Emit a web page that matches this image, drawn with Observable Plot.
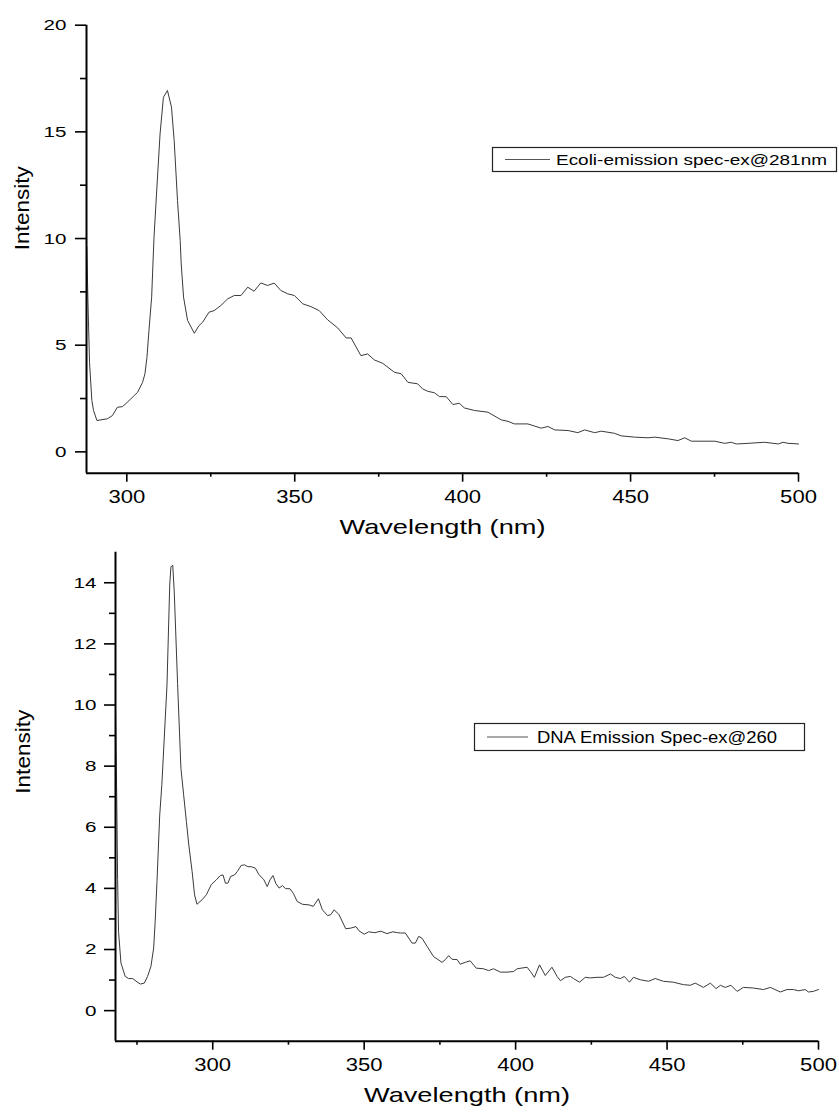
<!DOCTYPE html>
<html>
<head>
<meta charset="utf-8">
<script src="https://cdn.jsdelivr.net/npm/d3@7"></script>
<script src="https://cdn.jsdelivr.net/npm/@observablehq/plot@0.6"></script>
<style>
  html, body { margin: 0; padding: 0; background: #fff; }
  #page { position: relative; width: 839px; height: 1115px; overflow: hidden; background: #fff; }
  .panel { position: absolute; left: 0; width: 839px; }
  .legend { position: absolute; left: 0; top: 0; overflow: visible; }
  text { font-family: "Liberation Sans", Arial, sans-serif; }
</style>
</head>
<body>
<div id="page"></div>
<script>
// E. coli emission spectrum, excitation at 281 nm
const ecoliWavelength = [288.1, 288.4, 288.9, 289.6, 290.1, 291.1, 294.2, 295.7, 297.2, 298.7,
  300.2, 302.2, 303.2, 304.7, 305.4, 306.0, 306.6, 307.4, 308.1, 309.2,
  309.9, 310.9, 312.1, 313.3, 314.1, 315.1, 315.9, 316.2, 316.9, 318.1,
  320.1, 321.5, 322.6, 324.5, 326.0, 328.0, 330.0, 332.0, 334.0, 336.0,
  337.9, 339.9, 341.9, 343.9, 345.9, 347.9, 349.9, 352.4, 354.8, 357.3,
  359.8, 362.8, 365.3, 366.8, 369.7, 371.7, 373.7, 376.2, 379.7, 381.7,
  383.7, 386.6, 388.1, 389.6, 391.6, 393.1, 395.1, 397.1, 399.0, 400.5,
  403.5, 407.5, 411.5, 413.5, 415.4, 419.4, 423.4, 425.4, 427.4, 431.4,
  434.3, 436.3, 439.3, 441.3, 445.2, 447.2, 451.2, 455.2, 457.2, 461.2,
  464.1, 466.1, 468.1, 475.1, 478.0, 480.0, 481.5, 485.0, 489.9, 494.0,
  495.4, 496.9, 500.0];
const ecoliIntensity = [9.6, 7.25, 4.2, 2.4, 1.94, 1.47, 1.55, 1.70, 2.09, 2.12,
  2.33, 2.64, 2.79, 3.26, 3.66, 4.43, 5.69, 7.25, 10.06, 13.03,
  14.9, 16.62, 16.94, 16.16, 14.6, 11.78, 9.9, 8.81, 7.25, 6.16,
  5.56, 5.92, 6.08, 6.55, 6.62, 6.86, 7.17, 7.33, 7.33, 7.72,
  7.53, 7.92, 7.80, 7.91, 7.56, 7.41, 7.33, 6.94, 6.81, 6.62,
  6.19, 5.81, 5.34, 5.34, 4.51, 4.59, 4.31, 4.15, 3.73, 3.66,
  3.26, 3.19, 2.95, 2.84, 2.77, 2.59, 2.59, 2.22, 2.28, 2.06,
  1.94, 1.86, 1.50, 1.43, 1.31, 1.31, 1.11, 1.19, 1.03, 1.00,
  0.90, 1.03, 0.90, 0.97, 0.87, 0.75, 0.69, 0.66, 0.69, 0.61,
  0.53, 0.66, 0.50, 0.50, 0.40, 0.45, 0.37, 0.40, 0.45, 0.37,
  0.45, 0.40, 0.37];

// DNA emission spectrum, excitation at 260 nm
const dnaWavelength = [267.9, 268.3, 268.6, 268.9, 269.7, 271.1, 272.2, 273.6, 275.0, 276.1,
  277.4, 278.5, 279.6, 280.5, 281.0, 281.6, 282.5, 283.2, 284.9, 285.8,
  286.2, 286.8, 287.3, 288.4, 289.5, 290.4, 291.3, 292.1, 293.2, 294.0,
  294.8, 296.5, 297.9, 299.5, 301.2, 302.5, 303.4, 304.2, 305.0, 305.9,
  307.2, 308.1, 309.4, 310.5, 311.6, 312.7, 314.1, 315.2, 316.9, 318.0,
  318.9, 319.9, 320.8, 321.9, 323.0, 324.1, 325.5, 326.6, 327.9, 329.6,
  331.8, 333.2, 334.9, 336.2, 337.9, 339.0, 340.1, 341.7, 343.9, 345.6,
  347.3, 348.3, 350.0, 351.5, 353.5, 355.5, 357.5, 359.5, 361.0, 362.0,
  363.6, 365.8, 366.9, 368.0, 369.1, 370.8, 372.9, 375.7, 376.8, 377.9,
  379.0, 380.7, 381.7, 383.4, 385.0, 387.0, 389.4, 391.1, 392.7, 395.0,
  397.2, 399.3, 400.5, 403.8, 404.9, 406.2, 407.9, 409.8, 412.0, 413.7,
  414.8, 416.4, 418.1, 419.1, 421.1, 423.0, 424.7, 426.9, 429.0, 431.3,
  432.9, 434.6, 435.9, 437.6, 438.9, 441.2, 443.9, 446.1, 448.8, 452.1,
  455.4, 457.7, 459.3, 462.0, 464.3, 466.2, 467.6, 469.2, 471.1, 473.1,
  475.2, 478.5, 481.8, 484.1, 487.4, 489.6, 491.7, 493.4, 495.6, 496.7,
  498.3, 500.0];
const dnaIntensity = [9.9, 7.0, 4.3, 2.6, 1.56, 1.12, 1.05, 1.05, 0.94, 0.87,
  0.90, 1.12, 1.45, 2.05, 2.92, 4.23, 6.4, 7.39, 10.65, 13.92,
  14.52, 14.58, 13.7, 10.7, 7.93, 7.06, 6.19, 5.42, 4.55, 3.79,
  3.48, 3.63, 3.79, 4.12, 4.28, 4.42, 4.44, 4.17, 4.17, 4.39,
  4.44, 4.55, 4.75, 4.77, 4.71, 4.71, 4.66, 4.46, 4.28, 4.06,
  4.28, 4.42, 4.17, 4.01, 4.09, 3.99, 3.99, 3.84, 3.57, 3.48,
  3.46, 3.41, 3.66, 3.30, 3.11, 3.14, 3.30, 3.14, 2.68, 2.70,
  2.75, 2.61, 2.50, 2.58, 2.55, 2.60, 2.52, 2.58, 2.55, 2.54,
  2.54, 2.21, 2.21, 2.43, 2.37, 2.10, 1.77, 1.58, 1.67, 1.80,
  1.68, 1.67, 1.52, 1.58, 1.63, 1.39, 1.37, 1.31, 1.37, 1.26,
  1.26, 1.28, 1.37, 1.42, 1.28, 1.09, 1.50, 1.15, 1.42, 1.12,
  0.98, 1.09, 1.12, 1.05, 0.93, 1.09, 1.07, 1.09, 1.09, 1.20,
  1.09, 1.05, 1.12, 0.93, 1.09, 1.01, 0.96, 1.05, 0.96, 0.93,
  0.85, 0.83, 0.90, 0.76, 0.90, 0.72, 0.83, 0.76, 0.83, 0.63,
  0.76, 0.74, 0.69, 0.76, 0.61, 0.69, 0.69, 0.65, 0.69, 0.61,
  0.63, 0.69];

// Axis ticks
const ecoliXTicks = [300, 350, 400, 450, 500];
const ecoliXMinor = [325, 375, 425, 475];
const ecoliYTicks = [0, 5, 10, 15, 20];
const ecoliYMinor = [2.5, 7.5, 12.5, 17.5];
const dnaXTicks = [300, 350, 400, 450, 500];
const dnaXMinor = [275, 325, 375, 425, 475];
const dnaYTicks = [0, 2, 4, 6, 8, 10, 12, 14];
const dnaYMinor = [1, 3, 5, 7, 9, 11, 13];

// Labels
const xLabel = "Wavelength (nm)";
const yLabel = "Intensity";
const ecoliName = "Ecoli-emission spec-ex@281nm";
const dnaName = "DNA Emission Spec-ex@260";

const FONT = "'Liberation Sans', Arial, Helvetica, sans-serif";

function spectrumPlot(cfg) {
  const rows = cfg.wavelength.map((w, i) => ({wavelength: w, intensity: cfg.intensity[i]}));
  return Plot.plot({
    width: 839,
    height: cfg.height,
    marginLeft: cfg.marginLeft,
    marginRight: cfg.marginRight,
    marginTop: cfg.marginTop,
    marginBottom: cfg.marginBottom,
    style: {fontFamily: FONT, background: "white", color: "black", overflow: "visible"},
    x: {domain: cfg.xDomain},
    y: {domain: cfg.yDomain},
    marks: [
      // spectrum trace
      Plot.line(rows, {x: "wavelength", y: "intensity", stroke: "#3a3a3a", strokeWidth: 1}),
      // major and minor tick marks
      Plot.axisY({ticks: cfg.yTicks, tickSize: 11, strokeWidth: 1.6, fill: "none", label: null}),
      Plot.axisY({ticks: cfg.yMinor, tickSize: 6, strokeWidth: 1.6, fill: "none", label: null}),
      Plot.axisX({ticks: cfg.xTicks, tickSize: 9, strokeWidth: 1.6, fill: "none", label: null}),
      Plot.axisX({ticks: cfg.xMinor, tickSize: 4, strokeWidth: 1.6, fill: "none", label: null}),
      // tick labels
      Plot.axisY({ticks: cfg.yTicks, tickSize: 0, tickPadding: cfg.yPad, fontSize: 15.5, label: null, tickFormat: d => String(d)}),
      Plot.axisX({ticks: cfg.xTicks, tickSize: 0, tickPadding: 16, fontSize: 19, label: null, tickFormat: d => String(d)}),
      // axis lines
      Plot.ruleX([cfg.xDomain[0]], {stroke: "black", strokeWidth: 2}),
      Plot.ruleY([cfg.yDomain[0]], {stroke: "black", strokeWidth: 2}),
      // axis titles
      Plot.text([xLabel], {text: d => d, frameAnchor: "bottom", dy: cfg.xLabelDy, fontSize: 21}),
      Plot.text([yLabel], {text: d => d, frameAnchor: "left", rotate: -90, dx: cfg.yLabelDx, dy: cfg.yLabelDy, fontSize: 20})
    ]
  });
}

// widen glyph runs (the typography is set wide)
function widen(svg) {
  const rules = [
    ['g[aria-label="y-axis tick label"] text', 1.33],
    ['g[aria-label="x-axis tick label"] text', 1.16]
  ];
  for (const [sel, f] of rules) {
    svg.querySelectorAll(sel).forEach(t => {
      const w = t.getComputedTextLength();
      t.setAttribute("textLength", (w * f).toFixed(1));
      t.setAttribute("lengthAdjust", "spacingAndGlyphs");
    });
  }
  svg.querySelectorAll('g[aria-label="text"] text').forEach(t => {
    const target = t.textContent === xLabel ? 206 : 84;
    t.setAttribute("textLength", target);
    t.setAttribute("lengthAdjust", "spacingAndGlyphs");
  });
}

function drawLegend(parent, box, name) {
  const svg = d3.select(parent).append("svg")
    .attr("class", "legend")
    .attr("width", 839).attr("height", box.panelHeight);
  svg.append("rect")
    .attr("x", box.x + 0.5).attr("y", box.y + 0.5)
    .attr("width", box.w).attr("height", box.h)
    .attr("fill", "white").attr("stroke", "#222").attr("stroke-width", 1.2);
  svg.append("line")
    .attr("x1", box.x + box.l1).attr("x2", box.x + box.l2)
    .attr("y1", box.y + box.h / 2 + 0.5).attr("y2", box.y + box.h / 2 + 0.5)
    .attr("stroke", "#555").attr("stroke-width", 1);
  svg.append("text")
    .attr("x", box.x + box.tx).attr("y", box.y + box.ty)
    .attr("font-size", box.fs)
    .attr("font-family", FONT)
    .attr("textLength", box.tl).attr("lengthAdjust", "spacingAndGlyphs")
    .attr("fill", "black")
    .text(name);
}

const pageEl = document.getElementById("page");

// Upper panel: E. coli
const upperPanel = document.createElement("div");
upperPanel.className = "panel";
upperPanel.style.top = "0px";
upperPanel.style.height = "550px";
pageEl.appendChild(upperPanel);
const ecoliChart = spectrumPlot({
  wavelength: ecoliWavelength, intensity: ecoliIntensity,
  height: 550, marginLeft: 86, marginRight: 41, marginTop: 24.7, marginBottom: 77.3,
  xDomain: [288, 500], yDomain: [-1, 20],
  xTicks: ecoliXTicks, xMinor: ecoliXMinor, yTicks: ecoliYTicks, yMinor: ecoliYMinor,
  yPad: 20, xLabelDy: 61, yLabelDx: -64, yLabelDy: 1
});
upperPanel.appendChild(ecoliChart);
widen(ecoliChart);
drawLegend(upperPanel, {panelHeight: 550, x: 492, y: 147, w: 344, h: 24, l1: 13, l2: 58, tx: 64, ty: 18, fs: 15, tl: 271}, ecoliName);

// Lower panel: DNA
const lowerPanel = document.createElement("div");
lowerPanel.className = "panel";
lowerPanel.style.top = "550px";
lowerPanel.style.height = "565px";
pageEl.appendChild(lowerPanel);
const dnaChart = spectrumPlot({
  wavelength: dnaWavelength, intensity: dnaIntensity,
  height: 565, marginLeft: 115, marginRight: 21, marginTop: 1.7, marginBottom: 74.3,
  xDomain: [267.9, 500], yDomain: [-1, 15],
  xTicks: dnaXTicks, xMinor: dnaXMinor, yTicks: dnaYTicks, yMinor: dnaYMinor,
  yPad: 19, xLabelDy: 60.6, yLabelDx: -91.5, yLabelDy: -3
});
lowerPanel.appendChild(dnaChart);
widen(dnaChart);
drawLegend(lowerPanel, {panelHeight: 565, x: 474, y: 173, w: 330, h: 27, l1: 13, l2: 54, tx: 63, ty: 19.7, fs: 16, tl: 240}, dnaName);
</script>
</body>
</html>
